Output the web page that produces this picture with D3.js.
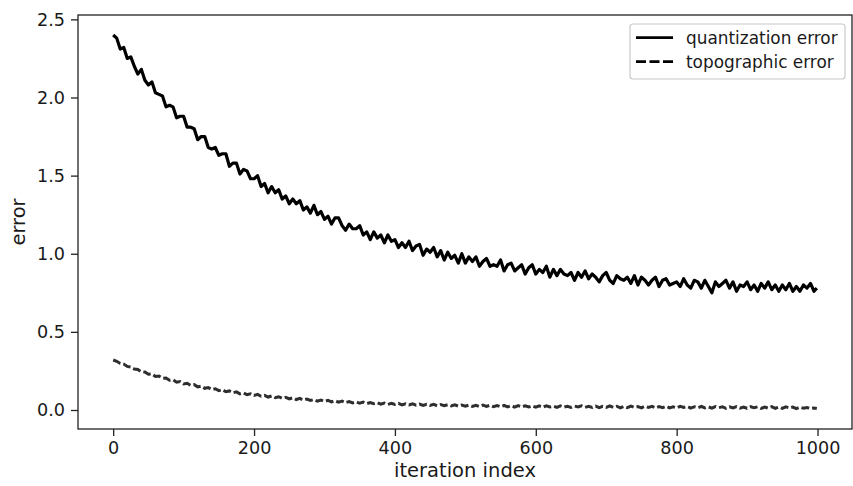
<!DOCTYPE html>
<html>
<head>
<meta charset="utf-8">
<script src="https://cdn.jsdelivr.net/npm/d3@7"></script>
<style>
  html, body { margin: 0; padding: 0; background: #fff; }
  svg { display: block; font-family: "DejaVu Sans", sans-serif; }
</style>
</head>
<body>
<svg id="chart" width="853" height="486"></svg>
<script>
const iterations = d3.range(0, 1000, 5).concat([999]);

const quantizationError = [
  2.40, 2.38, 2.31, 2.32, 2.25,
  2.26, 2.20, 2.15, 2.18, 2.11,
  2.08, 2.10, 2.03, 2.02, 2.01,
  1.94, 1.95, 1.94, 1.87, 1.88,
  1.88, 1.81, 1.81, 1.80, 1.73,
  1.75, 1.75, 1.68, 1.67, 1.68,
  1.63, 1.64, 1.64, 1.56, 1.58,
  1.58, 1.51, 1.54, 1.53, 1.48,
  1.48, 1.50, 1.43, 1.45, 1.39,
  1.43, 1.39, 1.41, 1.35, 1.37,
  1.32, 1.35, 1.32, 1.34, 1.28,
  1.30, 1.26, 1.31, 1.25, 1.27,
  1.22, 1.24, 1.19, 1.23, 1.23,
  1.18, 1.15, 1.19, 1.16, 1.16,
  1.18, 1.12, 1.14, 1.09, 1.14,
  1.10, 1.12, 1.07, 1.12, 1.08,
  1.09, 1.04, 1.07, 1.04, 1.08,
  1.02, 1.05, 1.06, 0.99, 1.03,
  1.01, 1.04, 0.98, 1.02, 0.96,
  1.01, 0.97, 0.99, 0.94, 1.00,
  0.94, 0.98, 0.95, 0.98, 0.92,
  0.95, 0.97, 0.92, 0.93, 0.92,
  0.96, 0.89, 0.93, 0.94, 0.89,
  0.91, 0.93, 0.87, 0.91, 0.93,
  0.87, 0.90, 0.88, 0.92, 0.85,
  0.90, 0.86, 0.90, 0.87, 0.86,
  0.88, 0.83, 0.88, 0.85, 0.89,
  0.84, 0.87, 0.85, 0.82, 0.86,
  0.88, 0.83, 0.81, 0.86, 0.84,
  0.83, 0.85, 0.81, 0.86, 0.80,
  0.85, 0.83, 0.80, 0.83, 0.85,
  0.79, 0.83, 0.84, 0.80, 0.81,
  0.82, 0.79, 0.84, 0.80, 0.78,
  0.83, 0.82, 0.78, 0.83, 0.79,
  0.75, 0.82, 0.79, 0.81, 0.83,
  0.78, 0.82, 0.76, 0.80, 0.79,
  0.82, 0.77, 0.80, 0.76, 0.81,
  0.78, 0.82, 0.77, 0.80, 0.76,
  0.80, 0.77, 0.81, 0.76, 0.79,
  0.76, 0.80, 0.78, 0.81, 0.76,
  0.78
];

const topographicError = [
  0.320, 0.312, 0.298, 0.294, 0.279,
  0.275, 0.262, 0.259, 0.245, 0.243,
  0.229, 0.231, 0.215, 0.217, 0.203,
  0.205, 0.190, 0.193, 0.178, 0.182,
  0.167, 0.171, 0.158, 0.162, 0.148,
  0.153, 0.139, 0.144, 0.131, 0.136,
  0.124, 0.130, 0.117, 0.122, 0.110,
  0.116, 0.103, 0.109, 0.098, 0.104,
  0.093, 0.100, 0.088, 0.094, 0.083,
  0.090, 0.079, 0.085, 0.075, 0.081,
  0.071, 0.078, 0.067, 0.074, 0.064,
  0.070, 0.061, 0.067, 0.057, 0.064,
  0.055, 0.062, 0.052, 0.059, 0.050,
  0.057, 0.047, 0.054, 0.045, 0.052,
  0.043, 0.050, 0.041, 0.048, 0.040,
  0.047, 0.038, 0.045, 0.036, 0.043,
  0.035, 0.042, 0.033, 0.040, 0.032,
  0.040, 0.031, 0.038, 0.030, 0.037,
  0.029, 0.036, 0.027, 0.035, 0.028,
  0.034, 0.026, 0.033, 0.025, 0.032,
  0.024, 0.031, 0.023, 0.030, 0.022,
  0.031, 0.023, 0.030, 0.021, 0.029,
  0.021, 0.029, 0.020, 0.028, 0.019,
  0.028, 0.020, 0.027, 0.019, 0.026,
  0.018, 0.026, 0.017, 0.027, 0.019,
  0.025, 0.017, 0.026, 0.018, 0.024,
  0.016, 0.025, 0.019, 0.027, 0.017,
  0.024, 0.016, 0.025, 0.015, 0.023,
  0.017, 0.026, 0.016, 0.024, 0.014,
  0.023, 0.015, 0.025, 0.016, 0.022,
  0.014, 0.024, 0.017, 0.023, 0.013,
  0.022, 0.015, 0.024, 0.014, 0.021,
  0.013, 0.023, 0.016, 0.022, 0.012,
  0.021, 0.014, 0.023, 0.013, 0.020,
  0.012, 0.022, 0.015, 0.021, 0.011,
  0.020, 0.013, 0.022, 0.012, 0.019,
  0.011, 0.021, 0.014, 0.020, 0.010,
  0.019, 0.012, 0.021, 0.011, 0.018,
  0.010, 0.020, 0.013, 0.019, 0.009,
  0.018, 0.011, 0.016, 0.009, 0.013,
  0.010
];

const xTicks = [0, 200, 400, 600, 800, 1000];
const yTicks = [0.0, 0.5, 1.0, 1.5, 2.0, 2.5];
const legendLabels = ["quantization error", "topographic error"];
const xLabel = "iteration index";
const yLabel = "error";

// ---- layout ----
const plot = { left: 78, top: 15, right: 852, bottom: 429 };
const FONT = 17.6;
const LABEL_FONT = 19.5;

const svg = d3.select("#chart");

const x = d3.scaleLinear().domain([-49.95, 1048.95]).range([plot.left, plot.right]);
const y = d3.scaleLinear().domain([-0.1216, 2.528]).range([plot.bottom, plot.top]);

svg.append("clipPath").attr("id", "clip")
  .append("rect")
  .attr("x", plot.left).attr("y", plot.top)
  .attr("width", plot.right - plot.left).attr("height", plot.bottom - plot.top);

const n1 = Math.min(iterations.length, quantizationError.length);
const n2 = Math.min(iterations.length, topographicError.length);
const qData = d3.range(n1).map(i => [iterations[i], quantizationError[i]]);
const tData = d3.range(n2).map(i => [iterations[i], topographicError[i]]);

const line = d3.line().x(d => x(d[0])).y(d => y(d[1]));

const g = svg.append("g").attr("clip-path", "url(#clip)");
g.append("path").datum(qData)
  .attr("d", line)
  .attr("fill", "none").attr("stroke", "#000")
  .attr("stroke-width", 3.2).attr("stroke-linejoin", "round");
g.append("path").datum(tData)
  .attr("d", line)
  .attr("fill", "none").attr("stroke", "#2e2e2e")
  .attr("stroke-width", 3).attr("stroke-dasharray", "8,3");

// axes
const xAxis = d3.axisBottom(x).tickValues(xTicks).tickSize(7).tickPadding(6).tickFormat(d3.format("d"));
const yAxis = d3.axisLeft(y).tickValues(yTicks).tickSize(7).tickPadding(6).tickFormat(d3.format(".1f"));

const gx = svg.append("g").attr("transform", `translate(0,${plot.bottom})`).call(xAxis);
const gy = svg.append("g").attr("transform", `translate(${plot.left},0)`).call(yAxis);
[gx, gy].forEach(a => {
  a.select(".domain").remove();
  a.selectAll(".tick line").attr("stroke", "#222").attr("stroke-width", 1.3);
  a.selectAll(".tick text").attr("font-size", FONT).attr("fill", "#1a1a1a")
    .attr("font-family", "DejaVu Sans, sans-serif");
});

// spines
svg.append("rect")
  .attr("x", plot.left).attr("y", plot.top)
  .attr("width", plot.right - plot.left).attr("height", plot.bottom - plot.top)
  .attr("fill", "none").attr("stroke", "#222").attr("stroke-width", 1.3);

// axis labels
svg.append("text").attr("x", (plot.left + plot.right) / 2).attr("y", 477)
  .attr("text-anchor", "middle").attr("font-size", LABEL_FONT).attr("fill", "#1a1a1a")
  .text(xLabel);
svg.append("text").attr("transform", `translate(25,${(plot.top + plot.bottom) / 2}) rotate(-90)`)
  .attr("text-anchor", "middle").attr("font-size", LABEL_FONT).attr("fill", "#1a1a1a")
  .text(yLabel);

// legend
const lg = svg.append("g");
lg.append("rect").attr("x", 630).attr("y", 24).attr("width", 215).attr("height", 55)
  .attr("rx", 3).attr("fill", "#fff").attr("fill-opacity", 0.8)
  .attr("stroke", "#c8c8c8").attr("stroke-width", 1.2);
const rows = [37.7, 61.7];
legendLabels.forEach((lab, i) => {
  lg.append("line").attr("x1", 636).attr("x2", 673).attr("y1", rows[i]).attr("y2", rows[i])
    .attr("stroke", "#000").attr("stroke-width", 2.8)
    .attr("stroke-dasharray", i === 1 ? "10,3.5" : null);
  lg.append("text").attr("x", 686).attr("y", rows[i]).attr("dy", "0.35em")
    .attr("font-size", 16.9).attr("fill", "#1a1a1a").text(lab);
});
</script>
</body>
</html>
